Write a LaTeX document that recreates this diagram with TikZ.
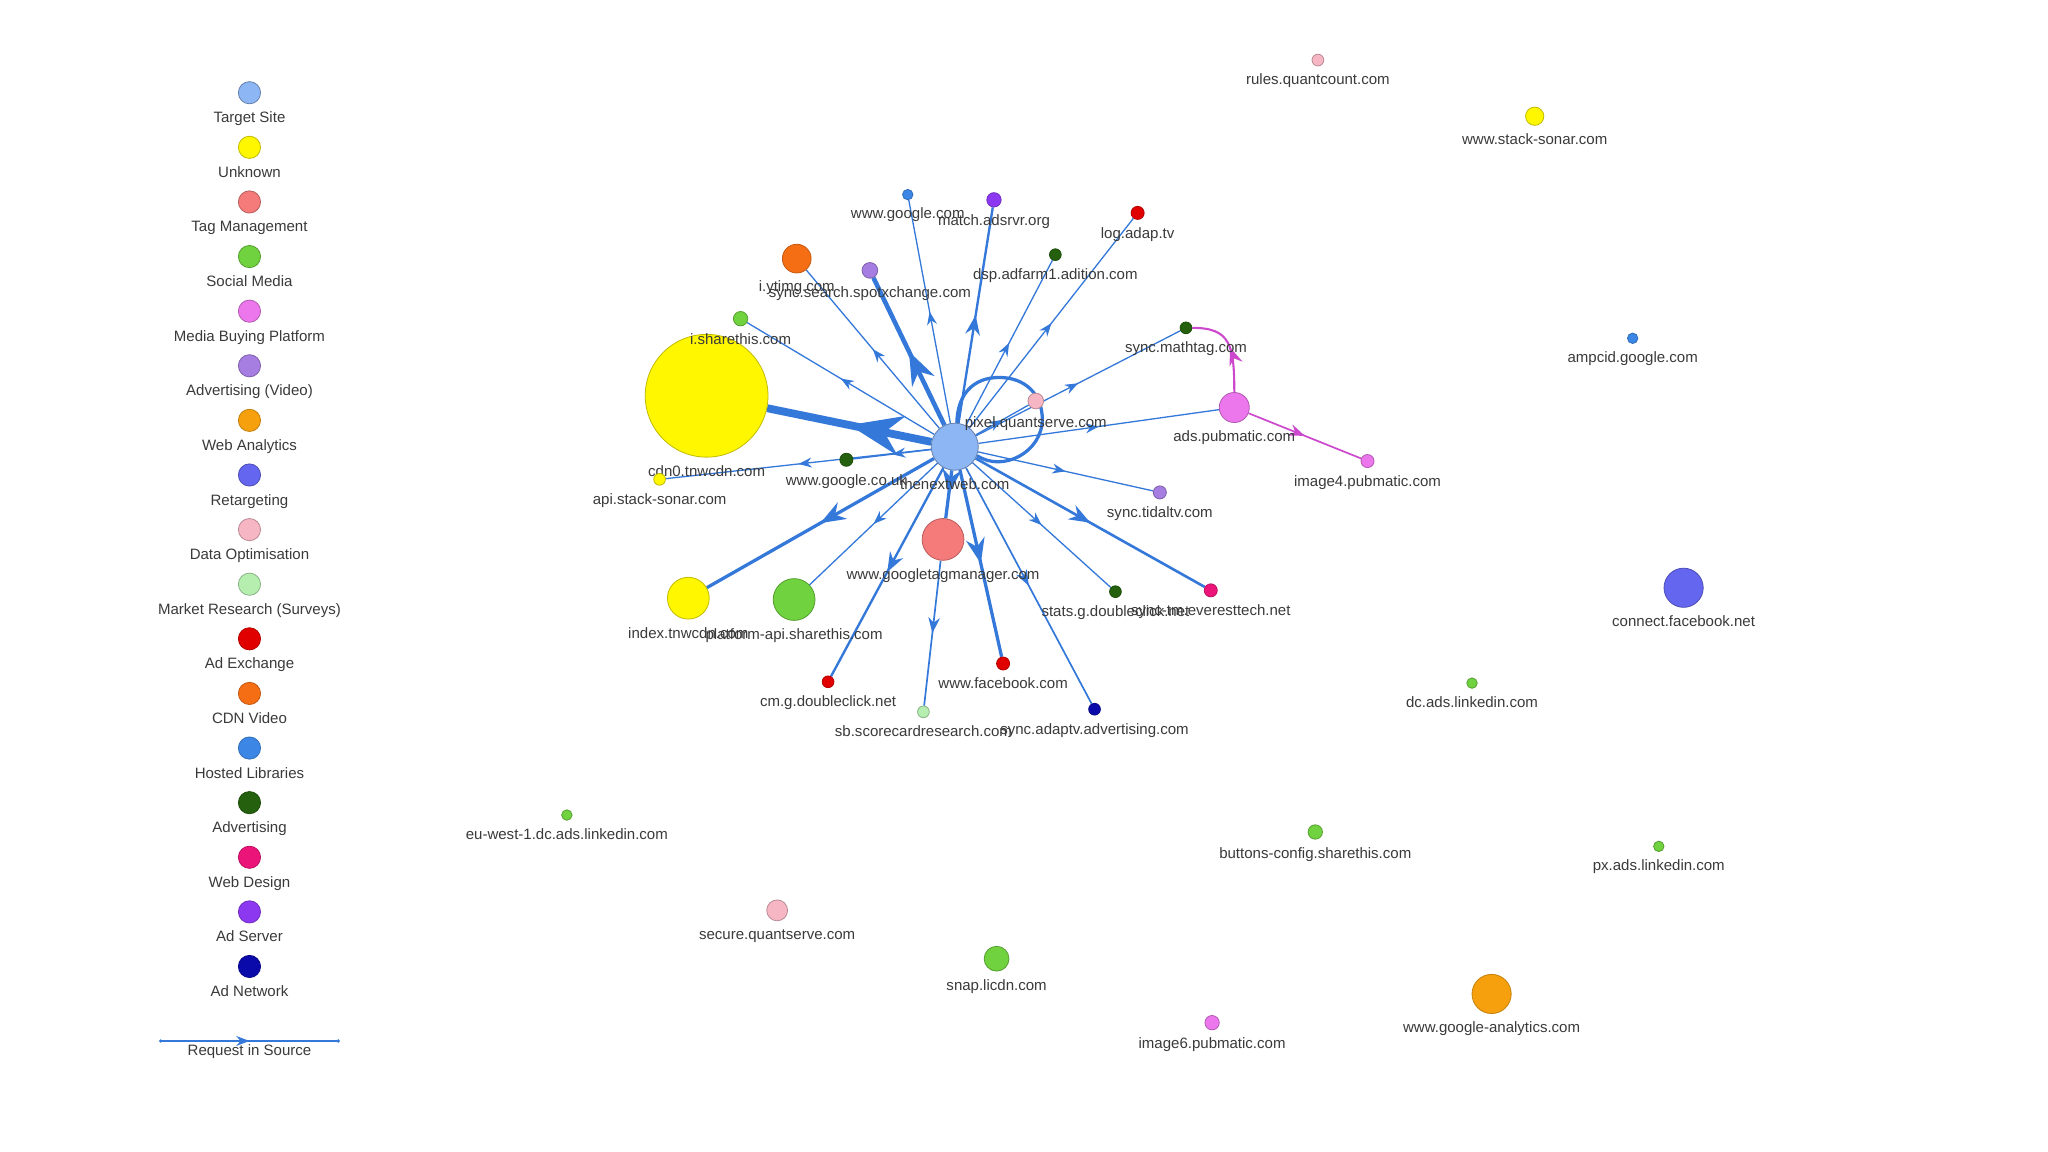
\documentclass[tikz,border=0pt]{standalone}
\usepackage{fontspec}
\setmainfont{Liberation Sans}
\usetikzlibrary{positioning, arrows.meta, decorations.markings, backgrounds}

\definecolor{cTgt}{RGB}{141,182,245}
\definecolor{cUnk}{RGB}{255,247,0}
\definecolor{cTag}{RGB}{245,122,122}
\definecolor{cSoc}{RGB}{112,210,62}
\definecolor{cMbp}{RGB}{236,118,236}
\definecolor{cAdvv}{RGB}{166,126,226}
\definecolor{cWan}{RGB}{245,160,12}
\definecolor{cRetg}{RGB}{100,102,240}
\definecolor{cDopt}{RGB}{246,182,196}
\definecolor{cMres}{RGB}{182,238,176}
\definecolor{cAdx}{RGB}{225,0,0}
\definecolor{cCdnv}{RGB}{245,110,20}
\definecolor{cHost}{RGB}{60,135,230}
\definecolor{cAdv}{RGB}{36,96,14}
\definecolor{cWebd}{RGB}{235,20,120}
\definecolor{cAdsrv}{RGB}{140,56,240}
\definecolor{cAdnet}{RGB}{10,10,170}
\definecolor{edgeblue}{RGB}{52,120,218}
\definecolor{edgemag}{RGB}{204,72,204}
\definecolor{labelgrey}{RGB}{58,58,58}

% Knoten: Kreis + Beschriftung darunter
\newcommand{\site}[6]{%
    \node[#2, minimum size=#5] (#1) at (#3,#4) {};
    \node[lbl, below=6pt of #1] (#1-l) {#6};}

\begin{document}
\begin{tikzpicture}[
        x=1pt, y=-1pt, % Pixelkoordinaten, y nach unten
        font=\fontsize{11.5}{13}\selectfont,
        lbl/.style={inner sep=0pt, text height=8pt, text depth=2pt, text=labelgrey},
        dot/.style={circle, inner sep=0pt, line width=0.6pt},
        tgt/.style={dot, fill=cTgt, draw=cTgt!70!black},
        unk/.style={dot, fill=cUnk, draw=cUnk!75!black},
        tag/.style={dot, fill=cTag, draw=cTag!75!black},
        soc/.style={dot, fill=cSoc, draw=cSoc!75!black},
        mbp/.style={dot, fill=cMbp, draw=cMbp!75!black},
        advv/.style={dot, fill=cAdvv, draw=cAdvv!75!black},
        wan/.style={dot, fill=cWan, draw=cWan!80!black},
        retg/.style={dot, fill=cRetg, draw=cRetg!75!black},
        dopt/.style={dot, fill=cDopt, draw=cDopt!75!black},
        mres/.style={dot, fill=cMres, draw=cMres!75!black},
        adx/.style={dot, fill=cAdx, draw=cAdx!80!black},
        cdnv/.style={dot, fill=cCdnv, draw=cCdnv!80!black},
        host/.style={dot, fill=cHost, draw=cHost!80!black},
        adv/.style={dot, fill=cAdv, draw=cAdv!80!black},
        webd/.style={dot, fill=cWebd, draw=cWebd!80!black},
        adsrv/.style={dot, fill=cAdsrv, draw=cAdsrv!80!black},
        adnet/.style={dot, fill=cAdnet, draw=cAdnet!80!black},
        req/.style={draw=edgeblue, line width=#1, postaction={decorate},
            decoration={markings, mark=at position 0.5 with {\arrow{Stealth[scale=1.35]}}}},
        req/.default=1,
        mbpreq/.style={req=#1, draw=edgemag},
        mbpreq/.default=1.3,
        loopline/.style={draw=edgeblue, line width=2.5pt},
    ]

    % Legende
    \foreach \cat/\txt [count=\i] in {tgt/Target Site, unk/Unknown, tag/Tag Management,
            soc/Social Media, mbp/Media Buying Platform, advv/Advertising (Video),
            wan/Web Analytics, retg/Retargeting, dopt/Data Optimisation,
            mres/Market Research (Surveys), adx/Ad Exchange, cdnv/CDN Video,
            host/Hosted Libraries, adv/Advertising, webd/Web Design,
            adsrv/Ad Server, adnet/Ad Network} {
        \node[\cat, minimum size=17] (leg\i) at (191,{71+41.81*(\i-1)}) {};
        \node[lbl, below=6pt of leg\i] (leg\i-l) {\txt};
    }
    \coordinate (reqA) at (123,797);
    \coordinate (reqB) at (259,797);
    \coordinate (reqM) at (191,797);
    \node[lbl, below=3pt of reqM] (req-l) {Request in Source};

    % Zentrum und Anfragen
    \site{tnw}{tgt}{731}{342}{36}{thenextweb.com}
    \site{cdn}{unk}{541}{303}{94}{cdn0.tnwcdn.com}
    \site{shr}{soc}{567}{244}{11}{i.sharethis.com}
    \site{ytimg}{cdnv}{610}{198}{22}{i.ytimg.com}
    \site{spotx}{advv}{666}{207}{12}{sync.search.spotxchange.com}
    \site{ggl}{host}{695}{149}{8}{www.google.com}
    \site{adsrvr}{adsrv}{761}{153}{11}{match.adsrvr.org}
    \site{adap}{adx}{871}{163}{10}{log.adap.tv}
    \site{adition}{adv}{808}{195}{9}{dsp.adfarm1.adition.com}
    \site{mathtag}{adv}{908}{251}{9}{sync.mathtag.com}
    \site{qpixel}{dopt}{793}{307}{12}{pixel.quantserve.com}
    \site{pubads}{mbp}{945}{312}{23}{ads.pubmatic.com}
    \site{pubimg4}{mbp}{1047}{353}{10}{image4.pubmatic.com}
    \site{tidal}{advv}{888}{377}{10}{sync.tidaltv.com}
    \site{everest}{webd}{927}{452}{10}{sync-tm.everesttech.net}
    \site{gstats}{adv}{854}{453}{9}{stats.g.doubleclick.net}
    \site{gtm}{tag}{722}{413}{32}{www.googletagmanager.com}
    \site{idx}{unk}{527}{458}{32}{index.tnwcdn.com}
    \site{shrapi}{soc}{608}{459}{32}{platform-api.sharethis.com}
    \site{gcm}{adx}{634}{522}{9}{cm.g.doubleclick.net}
    \site{scor}{mres}{707}{545}{9}{sb.scorecardresearch.com}
    \site{fb}{adx}{768}{508}{10}{www.facebook.com}
    \site{adaptv}{adnet}{838}{543}{9}{sync.adaptv.advertising.com}
    \site{gcouk}{adv}{648}{352}{10}{www.google.co.uk}
    \site{sonarapi}{unk}{505}{367}{9}{api.stack-sonar.com}

    % lose Knoten
    \site{qrules}{dopt}{1009}{46}{9}{rules.quantcount.com}
    \site{sonar}{unk}{1175}{89}{14}{www.stack-sonar.com}
    \site{ampcid}{host}{1250}{259}{8}{ampcid.google.com}
    \site{fbconn}{retg}{1289}{450}{30}{connect.facebook.net}
    \site{lidc}{soc}{1127}{523}{8}{dc.ads.linkedin.com}
    \site{lieu}{soc}{434}{624}{8}{eu-west-1.dc.ads.linkedin.com}
    \site{shrbtn}{soc}{1007}{637}{11}{buttons-config.sharethis.com}
    \site{lipx}{soc}{1270}{648}{8}{px.ads.linkedin.com}
    \site{qsec}{dopt}{595}{697}{16}{secure.quantserve.com}
    \site{licdn}{soc}{763}{734}{19}{snap.licdn.com}
    \site{pubimg6}{mbp}{928}{783}{11}{image6.pubmatic.com}
    \site{ga}{wan}{1142}{761}{30}{www.google-analytics.com}

    \begin{scope}[on background layer]
        \path[use as bounding box, fill=white] (0,0) rectangle (1568,882);
        \draw[req] (reqA) -- (reqB);
        \fill[edgeblue] (reqA) circle[radius=1.4] (reqB) circle[radius=1.4];

        % Schleife an thenextweb.com
        \draw[loopline] (tnw.85) .. controls (733,302) and (745,289) .. (765,289)
            .. controls (785,289) and (798,302) .. (798,321)
            .. controls (798,346) and (768,362) .. (tnw.-22);
        \draw[req=6] (tnw) -- (cdn);
        \draw[req] (tnw) -- (shr);
        \draw[req] (tnw) -- (ytimg);
        \draw[req=3.5] (tnw) -- (spotx);
        \draw[req] (tnw) -- (ggl);
        \draw[req=1.8] (tnw) -- (adsrvr);
        \draw[req] (tnw) -- (adition);
        \draw[req] (tnw) -- (adap);
        \draw[req] (tnw) -- (mathtag);
        \draw[req] (tnw) -- (qpixel);
        \draw[req] (tnw) -- (pubads);
        \draw[req] (tnw) -- (tidal);
        \draw[req=2] (tnw) -- (everest);
        \draw[req] (tnw) -- (gstats);
        \draw[req=1.3] (tnw) -- (adaptv);
        \draw[req=2.5] (tnw) -- (fb);
        \draw[req=2.5] (tnw) -- (gtm);
        \draw[req=1.3] (gtm) -- (scor);
        \draw[req=1.8] (tnw) -- (gcm);
        \draw[req] (tnw) -- (shrapi);
        \draw[req=2.5] (tnw) -- (idx);
        \draw[req] (tnw) -- (gcouk);
        \draw[req] (tnw) -- (sonarapi);
        \draw[mbpreq] (pubads) -- (pubimg4);
        \draw[mbpreq=1.6] (pubads) .. controls +(0,-48) and +(34,0) .. (mathtag);
    \end{scope}
\end{tikzpicture}
\end{document}
